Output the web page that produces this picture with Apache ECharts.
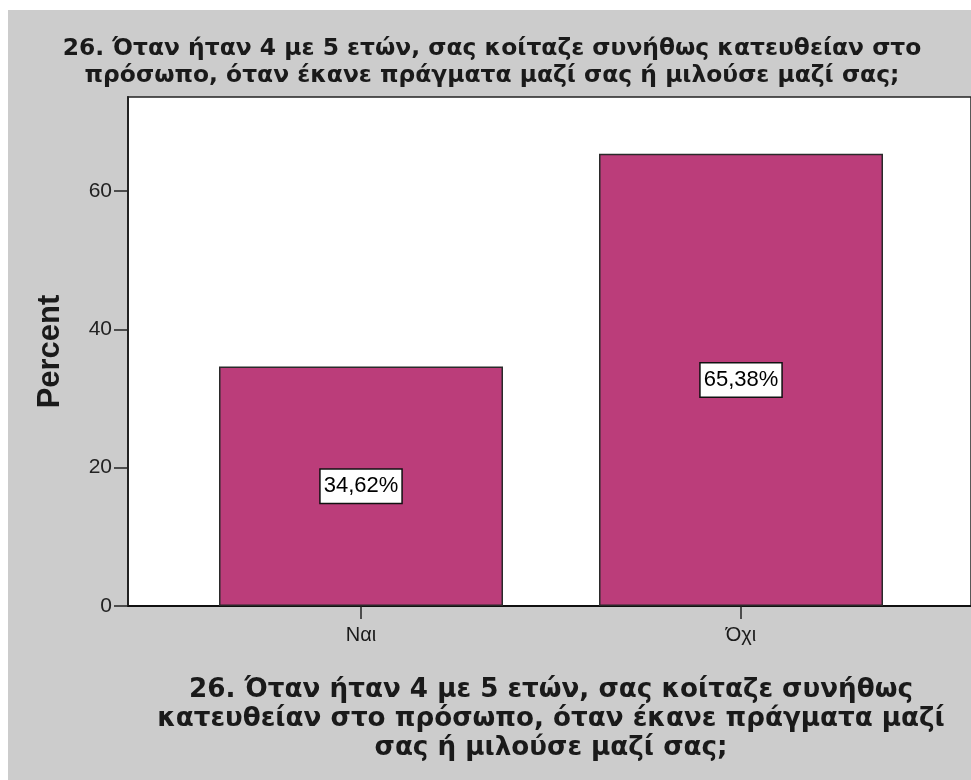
<!DOCTYPE html>
<html>
<head>
<meta charset="utf-8">
<script src="https://cdn.jsdelivr.net/npm/echarts@6/dist/echarts.min.js"></script>
<style>
  html, body { margin: 0; padding: 0; background: #ffffff; }
  #chart { width: 971px; height: 780px; }
</style>
</head>
<body>
<div id="chart"></div>
<script>
// Survey question 26: share of answers per category (percent)
const titleText = '26. Όταν ήταν 4 με 5 ετών, σας κοίταζε συνήθως κατευθείαν στο\nπρόσωπο, όταν έκανε πράγματα μαζί σας ή μιλούσε μαζί σας;';
const axisTitle = '26. Όταν ήταν 4 με 5 ετών, σας κοίταζε συνήθως\nκατευθείαν στο πρόσωπο, όταν έκανε πράγματα μαζί\nσας ή μιλούσε μαζί σας;';
const categories = ['Ναι', 'Όχι'];
const percents = [34.62, 65.38];
const yTicks = [0, 20, 40, 60];
const yMax = 73.6;

const fontFamily = 'Arial, "Liberation Sans", sans-serif';
const wideFont = '"DejaVu Sans", Arial, sans-serif';
const ink = '#1a1a1a';

const chart = echarts.init(document.getElementById('chart'), null, { renderer: 'canvas' });

chart.setOption({
  backgroundColor: '#ffffff',
  animation: false,
  graphic: [{
    type: 'rect',
    z: -10,
    shape: { x: 8, y: 10, width: 963, height: 770 },
    style: { fill: '#cccccc' },
    silent: true
  }],
  title: {
    text: titleText,
    left: 492,
    top: 35,
    textAlign: 'center',
    padding: 0,
    textStyle: { fontFamily: wideFont, fontSize: 23.4, fontWeight: 'bold', color: ink, lineHeight: 27 }
  },
  grid: [
    // plot frame (white area with border)
    { left: 128, top: 97, right: -6, bottom: 174, show: true, backgroundColor: '#ffffff', borderColor: '#222222', borderWidth: 1.5, z: 0 },
    // bar placement
    { left: 171, top: 97, width: 760, bottom: 174 }
  ],
  xAxis: [
    {
      gridIndex: 0, type: 'value', min: 0, max: 1,
      axisLine: { show: true, lineStyle: { color: '#111', width: 2 } },
      axisTick: { show: false }, axisLabel: { show: false }, splitLine: { show: false }
    },
    {
      gridIndex: 1, type: 'category', data: categories,
      axisLine: { show: false },
      axisTick: { show: true, alignWithLabel: true, length: 13, lineStyle: { color: '#222', width: 1.5 } },
      axisLabel: { fontFamily: fontFamily, fontSize: 20, color: ink, margin: 19 },
      name: axisTitle,
      nameLocation: 'middle',
      nameGap: 70,
      nameTextStyle: { fontFamily: wideFont, fontSize: 26.2, fontWeight: 'bold', color: ink, lineHeight: 29 }
    }
  ],
  yAxis: [
    {
      gridIndex: 0, type: 'value', min: 0, max: yMax,
      axisLine: { show: true, lineStyle: { color: '#222', width: 2 } },
      axisTick: { show: true, length: 14, customValues: yTicks, lineStyle: { color: '#222', width: 1.5 } },
      axisLabel: { fontFamily: fontFamily, fontSize: 21, color: '#222', margin: 16, customValues: yTicks },
      splitLine: { show: false },
      name: 'Percent',
      nameLocation: 'middle',
      nameGap: 62,
      nameTextStyle: { fontFamily: fontFamily, fontSize: 31, fontWeight: 'bold', color: ink }
    },
    {
      gridIndex: 1, type: 'value', min: 0, max: yMax, show: false
    }
  ],
  series: [{
    type: 'bar',
    xAxisIndex: 1,
    yAxisIndex: 1,
    data: percents,
    barWidth: 284,
    itemStyle: { color: '#bb3d7a', borderColor: '#2a2a2a', borderWidth: 1.5 },
    label: {
      show: true,
      position: 'inside',
      formatter: p => p.value.toFixed(2).replace('.', ',') + '%',
      fontFamily: fontFamily,
      fontSize: 22,
      color: '#000',
      backgroundColor: '#ffffff',
      borderColor: '#111',
      borderWidth: 1.5,
      padding: [6, 3, 5, 3]
    }
  }]
});
</script>
</body>
</html>
